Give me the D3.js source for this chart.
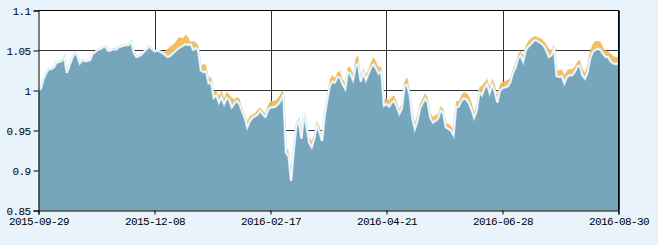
<!DOCTYPE html>
<meta charset="utf-8">

<!-- Load d3.js -->
<script src="https://d3js.org/d3.v7.min.js"></script>

<style>
    body { margin: 0; background: #e8f3fb; }
    text { font-family: "Liberation Mono", "DejaVu Sans Mono", monospace; font-size: 11px; fill: #000; }
</style>

<svg id="my_chart" width="658" height="245"></svg>

<script>

    // tick labels on the x axis (one every 45 trading days)
    const xTickLabels = ["2015-09-29", "2015-12-08", "2016-02-17", "2016-04-21", "2016-06-28", "2016-08-30"];
    const yTicks = [0.85, 0.9, 0.95, 1, 1.05, 1.1];

    // blue series (one value per trading day)
    const blueValues = [
        1.000, 1.003, 1.015, 1.022, 1.027, 1.027, 1.029, 1.035, 1.036, 1.037,
        1.042, 1.022, 1.031, 1.040, 1.047, 1.044, 1.034, 1.038, 1.037, 1.037,
        1.038, 1.046, 1.048, 1.051, 1.052, 1.054, 1.055, 1.050, 1.050, 1.052,
        1.051, 1.054, 1.055, 1.056, 1.057, 1.057, 1.061, 1.047, 1.042, 1.043,
        1.045, 1.049, 1.052, 1.055, 1.052, 1.049, 1.050, 1.049, 1.047, 1.045,
        1.042, 1.043, 1.046, 1.049, 1.052, 1.054, 1.056, 1.058, 1.057, 1.058,
        1.051, 1.053, 1.050, 1.025, 1.023, 1.024, 1.009, 1.010, 0.991, 0.994,
        0.985, 0.992, 0.983, 0.991, 0.988, 0.979, 0.984, 0.987, 0.983, 0.974,
        0.966, 0.954, 0.962, 0.966, 0.968, 0.970, 0.975, 0.970, 0.967, 0.975,
        0.979, 0.979, 0.980, 0.983, 0.988, 0.995, 0.922, 0.918, 0.887, 0.925,
        0.955, 0.962, 0.940, 0.972, 0.955, 0.935, 0.929, 0.940, 0.957, 0.948,
        0.937, 0.968, 0.988, 1.006, 1.011, 1.010, 1.017, 1.016, 1.008, 1.002,
        1.023, 1.021, 1.013, 1.030, 1.034, 1.011, 1.023, 1.013, 1.021, 1.029,
        1.033, 1.027, 1.021, 1.024, 0.981, 0.983, 0.980, 0.985, 0.987, 0.980,
        0.971, 0.978, 1.006, 1.007, 0.995, 0.966, 0.952, 0.962, 0.978, 0.984,
        0.990, 0.985, 0.966, 0.960, 0.962, 0.965, 0.975, 0.972, 0.954, 0.952,
        0.950, 0.944, 0.979, 0.980, 0.987, 0.990, 0.989, 0.984, 0.976, 0.966,
        0.975, 0.998, 0.994, 1.003, 1.008, 0.997, 1.008, 0.999, 0.985, 1.000,
        1.003, 1.004, 1.005, 1.010, 1.022, 1.028, 1.040, 1.044, 1.036, 1.050,
        1.055, 1.058, 1.062, 1.063, 1.061, 1.059, 1.056, 1.050, 1.042, 1.044,
        1.054, 1.018, 1.017, 1.018, 1.009, 1.017, 1.019, 1.019, 1.023, 1.030,
        1.031, 1.019, 1.015, 1.023, 1.040, 1.048, 1.051, 1.052, 1.051, 1.046,
        1.042, 1.042, 1.036, 1.034, 1.033, 1.034
    ];

    // orange series (drawn behind the blue one)
    const orangeValues = [
        1.000, 1.003, 1.015, 1.022, 1.027, 1.027, 1.029, 1.035, 1.036, 1.037,
        1.042, 1.022, 1.031, 1.040, 1.047, 1.044, 1.034, 1.038, 1.037, 1.037,
        1.038, 1.046, 1.048, 1.051, 1.052, 1.054, 1.055, 1.050, 1.050, 1.052,
        1.051, 1.054, 1.055, 1.056, 1.057, 1.057, 1.061, 1.047, 1.042, 1.043,
        1.045, 1.049, 1.052, 1.055, 1.052, 1.049, 1.050, 1.049, 1.048, 1.049,
        1.052, 1.055, 1.057, 1.060, 1.065, 1.067, 1.065, 1.070, 1.067, 1.061,
        1.062, 1.060, 1.057, 1.031, 1.033, 1.032, 1.016, 1.017, 0.999, 1.000,
        0.993, 1.000, 0.991, 0.998, 0.995, 0.991, 0.989, 0.992, 0.990, 0.978,
        0.970, 0.962, 0.968, 0.970, 0.972, 0.976, 0.979, 0.975, 0.971, 0.982,
        0.987, 0.987, 0.988, 0.991, 0.997, 1.001, 0.930, 0.924, 0.889, 0.927,
        0.958, 0.966, 0.943, 0.974, 0.960, 0.942, 0.937, 0.945, 0.962, 0.955,
        0.942, 0.971, 0.993, 1.014, 1.019, 1.016, 1.023, 1.024, 1.014, 1.010,
        1.030, 1.029, 1.021, 1.040, 1.044, 1.018, 1.028, 1.020, 1.027, 1.036,
        1.042, 1.036, 1.029, 1.030, 0.989, 0.990, 0.988, 0.992, 0.994, 0.986,
        0.977, 0.984, 1.012, 1.017, 1.002, 0.972, 0.960, 0.970, 0.984, 0.990,
        0.997, 0.991, 0.973, 0.967, 0.969, 0.971, 0.981, 0.977, 0.960, 0.958,
        0.956, 0.950, 0.987, 0.987, 0.994, 0.998, 0.997, 0.993, 0.985, 0.973,
        0.982, 1.004, 1.006, 1.010, 1.015, 1.005, 1.015, 1.008, 0.994, 1.008,
        1.011, 1.012, 1.013, 1.016, 1.026, 1.034, 1.045, 1.050, 1.044, 1.056,
        1.062, 1.065, 1.067, 1.068, 1.066, 1.065, 1.062, 1.058, 1.052, 1.050,
        1.058, 1.026, 1.025, 1.027, 1.019, 1.025, 1.027, 1.027, 1.030, 1.036,
        1.038, 1.028, 1.022, 1.033, 1.050, 1.058, 1.062, 1.062, 1.061, 1.054,
        1.050, 1.049, 1.046, 1.043, 1.042, 1.042
    ];

    const svg = d3.select("svg"),
        width = +svg.attr("width"),
        height = +svg.attr("height");

    const plotL = 38.5, plotR = 618.5, plotT = 10.5, plotB = 210.5;
    const n = blueValues.length;

    // scales
    const x = d3.scaleLinear().domain([0, n - 1]).range([plotL, plotR]);
    const y = d3.scaleLinear().domain([0.85, 1.1]).range([plotB, plotT]);
    const tickIdx = xTickLabels.map((d, i) => i * 45);

    // white plot background
    svg.append("rect")
        .attr("x", plotL).attr("y", plotT)
        .attr("width", plotR - plotL).attr("height", plotB - plotT)
        .attr("fill", "#fff");

    // grid lines
    const grid = svg.append("g").attr("stroke", "#333").attr("stroke-width", 1);
    grid.selectAll(".h")
        .data(yTicks.slice(1))
        .join("line")
        .attr("x1", plotL).attr("x2", plotR)
        .attr("y1", d => y(d)).attr("y2", d => y(d));
    grid.selectAll(".v")
        .data(tickIdx.slice(1))
        .join("line")
        .attr("x1", d => Math.round(x(d)) + 0.5).attr("x2", d => Math.round(x(d)) + 0.5)
        .attr("y1", plotT).attr("y2", plotB);

    // areas
    const areaOf = vals => d3.area()
        .x((d, i) => x(i))
        .y0(y(0.85))
        .y1(d => y(d))(vals);
    const lineOf = vals => d3.line()
        .x((d, i) => x(i))
        .y(d => y(d))(vals);

    svg.append("path")
        .attr("d", areaOf(orangeValues))
        .attr("fill", "#f3b84f")
        .attr("fill-opacity", 0.9);

    svg.append("path")
        .attr("d", areaOf(blueValues))
        .attr("fill", "#6da5c1")
        .attr("fill-opacity", 0.94);

    // light glow + white edge on the blue series
    svg.append("path")
        .attr("d", lineOf(blueValues))
        .attr("fill", "none")
        .attr("stroke", "#cfe5f1")
        .attr("stroke-width", 2.5);
    svg.append("path")
        .attr("d", lineOf(blueValues))
        .attr("fill", "none")
        .attr("stroke", "#fff")
        .attr("stroke-width", 1);

    // frame: top and right border
    svg.append("path")
        .attr("d", `M${plotL},${plotT}H${plotR}V${plotB}`)
        .attr("fill", "none")
        .attr("stroke", "#000");

    // axes
    svg.append("g")
        .attr("transform", `translate(${plotL},0)`)
        .call(d3.axisLeft(y).tickValues(yTicks).tickSize(5).tickPadding(3).tickFormat(d => d));
    svg.append("g")
        .attr("transform", `translate(0,${plotB})`)
        .call(d3.axisBottom(x).tickValues(tickIdx).tickSize(4).tickPadding(3)
            .tickFormat((d, i) => xTickLabels[i]));

    svg.selectAll(".tick line, .domain").attr("stroke", "#000");
    svg.selectAll(".tick text")
        .attr("font-family", null)
        .attr("font-size", null)
        .style("letter-spacing", "-0.6px");

</script>
